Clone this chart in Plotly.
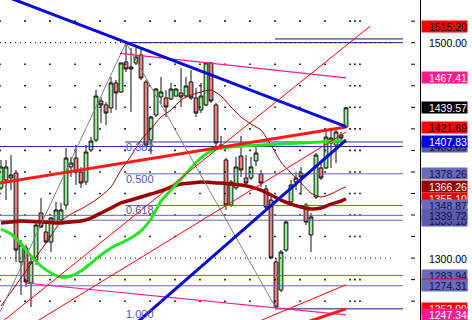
import plotly.graph_objects as go

# ---------------- price bars (x = bar number) ----------------
bars = list(range(70))
opens = [1365.1, 1372.5, 1374.4, 1379.0, 1296.4, 1309.4, 1276.9, 1298.3, 1341.9, 1324.2,
         1314.9, 1332.6, 1335.4, 1349.3, 1384.6, 1392.9, 1379.9, 1370.7, 1400.4, 1409.6,
         1445.9, 1442.2, 1439.4, 1462.6, 1454.2, 1482.1, 1477.4, 1481.2, 1488.6, 1463.5,
         1409.6, 1432.9, 1449.6, 1448.7, 1447.7, 1450.5, 1453.3, 1450.5, 1463.5, 1448.7,
         1437.5, 1442.2, 1481.2, 1442.2, 1405.0, 1391.1, 1349.3, 1365.1, 1394.8, 1374.4,
         1374.4, 1390.2, 1378.1, 1364.2, 1353.9, 1296.4, 1270.4, 1307.5, 1352.1, 1370.7,
         1379.0, 1349.3, 1321.5, 1356.7, 1383.7, 1383.7, 1406.9, 1405.0, 1414.3, 1421.7]
highs = [1391.1, 1391.1, 1395.7, 1381.8, 1316.8, 1312.2, 1300.1, 1333.5, 1355.8, 1333.5,
         1338.2, 1352.1, 1351.1, 1402.2, 1393.9, 1405.0, 1384.6, 1405.0, 1412.4, 1456.1,
         1449.6, 1444.9, 1468.2, 1465.4, 1481.2, 1500.0, 1495.1, 1495.1, 1495.1, 1465.4,
         1431.9, 1457.9, 1468.2, 1456.1, 1462.6, 1457.9, 1476.5, 1468.2, 1474.7, 1457.9,
         1462.6, 1482.1, 1482.1, 1444.0, 1413.4, 1392.9, 1372.5, 1393.9, 1413.4, 1395.7,
         1393.9, 1403.1, 1381.8, 1367.9, 1356.7, 1300.1, 1307.5, 1335.4, 1372.5, 1379.9,
         1384.6, 1351.1, 1341.9, 1397.6, 1388.3, 1417.1, 1420.8, 1420.8, 1417.1, 1440.3]
lows = [1363.2, 1353.9, 1363.2, 1296.4, 1265.7, 1273.2, 1254.6, 1293.6, 1327.9, 1314.0,
        1305.6, 1332.6, 1333.5, 1344.7, 1375.3, 1367.9, 1365.1, 1367.9, 1398.5, 1407.8,
        1425.4, 1423.6, 1434.7, 1437.5, 1453.3, 1472.8, 1435.7, 1479.3, 1465.4, 1403.1,
        1396.6, 1431.0, 1443.1, 1431.0, 1446.8, 1449.6, 1440.3, 1449.6, 1446.8, 1431.0,
        1434.7, 1441.2, 1444.0, 1403.1, 1400.4, 1344.7, 1347.4, 1363.2, 1375.3, 1366.0,
        1372.5, 1385.5, 1366.0, 1344.7, 1299.2, 1253.5, 1268.5, 1305.6, 1351.1, 1363.2,
        1358.6, 1330.7, 1305.6, 1354.9, 1372.5, 1382.8, 1383.7, 1388.3, 1406.9, 1420.8]
closes = [1384.6, 1384.6, 1377.2, 1307.5, 1312.2, 1277.8, 1296.4, 1330.7, 1328.9, 1314.9,
          1337.2, 1344.7, 1344.7, 1392.9, 1388.3, 1379.9, 1369.7, 1398.5, 1408.7, 1450.5,
          1442.2, 1434.7, 1462.6, 1453.3, 1481.2, 1475.6, 1475.6, 1486.7, 1467.2, 1405.0,
          1431.0, 1457.0, 1454.2, 1440.3, 1457.0, 1457.0, 1449.6, 1459.8, 1448.7, 1434.7,
          1450.5, 1481.2, 1445.9, 1406.9, 1402.2, 1349.3, 1370.7, 1384.6, 1381.8, 1369.7,
          1384.6, 1397.6, 1369.7, 1347.4, 1300.1, 1254.6, 1305.6, 1333.5, 1367.9, 1374.4,
          1375.3, 1333.5, 1338.2, 1395.7, 1374.4, 1412.4, 1411.5, 1417.1, 1411.5, 1439.57]

# ---------------- indicator curves, sampled every second bar ----------------
ma_bars = list(range(0, 69, 2)) + [69]
ma_fast = [1327.0, 1322.4, 1313.1, 1301.9, 1292.6, 1286.2, 1282.5, 1283.4, 1288.0, 1295.4,
           1302.9, 1309.4, 1314.0, 1318.6, 1325.2, 1336.3, 1353.0, 1363.2, 1373.4, 1383.7,
           1393.0, 1399.4, 1402.2, 1403.2, 1404.1, 1404.6, 1405.0, 1405.5, 1406.0, 1406.4,
           1406.9, 1407.3, 1407.8, 1408.3, 1408.7, 1408.7]
ma_slow = [1332.6, 1333.5, 1334.4, 1334.0, 1333.5, 1333.0, 1332.6, 1333.5, 1334.4, 1337.2,
           1341.9, 1346.5, 1351.2, 1353.9, 1356.7, 1359.5, 1362.3, 1366.0, 1368.8, 1369.7,
           1370.7, 1370.2, 1369.7, 1368.8, 1367.9, 1366.0, 1363.2, 1358.6, 1353.9, 1350.2,
           1347.5, 1345.6, 1346.5, 1350.2, 1353.0, 1355.10]
ma_thin = [1255.5, 1268.5, 1281.5, 1294.5, 1307.5, 1320.5, 1334.5, 1340.9, 1345.6, 1351.1,
           1357.6, 1366.0, 1381.8, 1394.8, 1409.6, 1419.9, 1431.0, 1437.5, 1446.8, 1451.4,
           1454.2, 1456.1, 1450.5, 1440.3, 1431.0, 1424.5, 1418.9, 1405.0, 1389.2, 1379.0,
           1369.7, 1360.4, 1356.7, 1359.5, 1364.2, 1366.26]

# ---------------- drawn trend lines: (bar, price) anchors ----------------
down_blue_x, down_blue_y = [0, 69], [1544.7, 1422.0]
up_blue_x, up_blue_y = [27, 69], [1239.3, 1409.5]
red_thick_x, red_thick_y = [-1, 69], [1369.2, 1421.69]
red_low_x, red_low_y = [61, 69], [1240.3, 1252.90]
ray_x, ray_y = [0, 73.8], [1240.0, 1515.20]
fan_x, fan_y = [7, 69], [1240.8, 1417.0]
chan_x, chan_y = [50, 69], [1238.2, 1275.20]
pink_top_x, pink_top_y = [23.8, 69], [1490.1, 1467.41]
pink_low_x, pink_low_y = [4.8, 69], [1276.9, 1247.34]
zigzag_x, zigzag_y = [-1, 25, 55], [1242.0, 1500.0, 1253.5]

# ---------------- horizontal levels ----------------
fib_names = ["0.382", "0.500", "0.618", "1.000"]
fib_prices = [1407.83, 1378.26, 1348.87, 1252.90]
fib_zero = 1503.50
peak_level = 1500.00
full_levels = [1403.65, 1339.72, 1335.18, 1283.94, 1274.31]
axis_labels = [1500.00, 1300.00]
tick_prices = list(range(1260, 1521, 20))

# ---------------- geometry helpers (bar axis: 5 px per bar) ----------------
W, H = 472, 320
PLOT_W = 420
X0, X1 = -0.2, 83.8
Y0, Y1 = 1242.53, 1539.65


def px_to_bar(px):
    return X0 + (X1 - X0) * px / PLOT_W


LEFT = X0
RIGHT_END = px_to_bar(403)
FIB_START = px_to_bar(125)
LOW_START = px_to_bar(275)

NAVY = "#14147e"
DARK_SLATE = "#2e2e90"
SLATE = "#6868b4"

fig = go.Figure()


def seg_trace(xs, ys, color, width, dash=None):
    fig.add_trace(go.Scatter(x=xs, y=ys, mode="lines", hoverinfo="skip",
                             line=dict(color=color, width=width, dash=dash)))


# dotted grid: sparse dots on price rows, dense dots on labelled rows
grid_cols = [px_to_bar(p) for p in list(range(0, 351, 25)) + [355, 360]]
gx, gy = [], []
for tp in tick_prices:
    if tp in axis_labels:
        continue
    for c in grid_cols:
        gx.append(c)
        gy.append(tp)
fig.add_trace(go.Scatter(x=gx, y=gy, mode="markers", hoverinfo="skip",
                         marker=dict(symbol="square", size=1.6, color="#000000", line=dict(width=0))))
for lv in axis_labels:
    seg_trace([LEFT, px_to_bar(392)], [lv, lv], "#000000", 1, "1px,4px")

# horizontal levels
for lv in full_levels:
    seg_trace([LEFT, RIGHT_END], [lv, lv], DARK_SLATE if lv == full_levels[0] else SLATE, 1)
for name, lv in zip(fib_names, fib_prices):
    start = LOW_START if name == "1.000" else FIB_START
    col = NAVY if name == "1.000" else (DARK_SLATE if name == "0.382" else SLATE)
    seg_trace([start, RIGHT_END], [lv, lv], col, 1)
seg_trace([LOW_START, RIGHT_END], [fib_zero, fib_zero], NAVY, 1)
seg_trace([FIB_START, RIGHT_END], [peak_level, peak_level], NAVY, 1)

# candles
fig.add_trace(go.Candlestick(
    x=bars, open=opens, high=highs, low=lows, close=closes,
    increasing=dict(line=dict(color="#111111", width=1), fillcolor="#90ee90"),
    decreasing=dict(line=dict(color="#111111", width=1), fillcolor="#f08080"),
    whiskerwidth=0, hoverinfo="skip"))

# moving averages
fig.add_trace(go.Scatter(x=ma_bars, y=ma_thin, mode="lines", hoverinfo="skip",
                         line=dict(color="#9a0000", width=1, shape="spline", smoothing=0.6)))
fig.add_trace(go.Scatter(x=ma_bars, y=ma_slow, mode="lines", hoverinfo="skip",
                         line=dict(color="#990000", width=3.5, shape="spline", smoothing=0.6)))
fig.add_trace(go.Scatter(x=ma_bars, y=ma_fast, mode="lines", hoverinfo="skip",
                         line=dict(color="#22e622", width=3, shape="spline", smoothing=0.6)))

# thin fan / channel lines
seg_trace(ray_x, ray_y, "#ff0000", 1)
seg_trace(fan_x, fan_y, "#ff0000", 1)
seg_trace(chan_x, chan_y, "#ff0000", 1)
seg_trace(zigzag_x, zigzag_y, "#808080", 1)
seg_trace(pink_top_x, pink_top_y, "#ff1a8c", 1.2)
seg_trace(pink_low_x, pink_low_y, "#ff1a8c", 1.2)

# heavy trend lines
seg_trace(red_low_x, red_low_y, "#ff1a1a", 3)
seg_trace(red_thick_x, red_thick_y, "#ff1a1a", 3)
seg_trace(down_blue_x, down_blue_y, "#0a0ad6", 3)
seg_trace(up_blue_x, up_blue_y, "#0a0ad6", 3)

# fibonacci level captions
for name, lv in zip(fib_names, fib_prices):
    fig.add_annotation(x=FIB_START, y=lv, xref="x", yref="y", text=name, showarrow=False,
                       xanchor="left", yanchor="top", yshift=2, borderpad=0,
                       font=dict(family="Liberation Sans, Arial", size=11, color="#5454a6"))

# right-hand price tags (later entries sit on top)
tags = [
    (ray_y[1], "#ff0000", "#000000"),
    (pink_top_y[1], "#ff1a8c", "#ffffff"),
    (closes[-1], "#000000", "#ffffff"),
    (red_thick_y[1], "#ff0000", "#000000"),
    (full_levels[0], "#5a5aae", "#10103c"),
    (fib_prices[0], "#0000e0", "#ffffff"),
    (fib_prices[1], "#6a6abc", "#10103c"),
    (ma_thin[-1], "#990000", "#ffffff"),
    (ma_slow[-1], "#ee0000", "#ffffff"),
    (fib_prices[2], "#6a6abc", "#10103c"),
    (full_levels[2], "#5a5aae", "#10103c"),
    (full_levels[1], "#5a5aae", "#10103c"),
    (full_levels[3], "#6a6abc", "#10103c"),
    (chan_y[1], "#ff0000", "#ffffff"),
    (full_levels[4], "#6a6abc", "#10103c"),
    (red_low_y[1], "#ff0000", "#ffffff"),
    (pink_low_y[1], "#ff1a8c", "#ffffff"),
]
TAG_X = 421 / W
for val, bg, fg in tags:
    fig.add_annotation(x=TAG_X, y=val, xref="paper", yref="y", text=f"{val:.2f}",
                       showarrow=False, xanchor="left", yanchor="middle", align="right",
                       width=45, height=11, borderpad=0, bgcolor=bg,
                       font=dict(family="Liberation Sans, Arial", size=10.5, color=fg))
for val in axis_labels:
    fig.add_annotation(x=TAG_X, y=val, xref="paper", yref="y", text=f"{val:.2f}",
                       showarrow=False, xanchor="left", yanchor="middle", align="right",
                       width=45, height=11, borderpad=0,
                       font=dict(family="Liberation Sans, Arial", size=10.5, color="#000000"))

# price scale border and tick marks
shapes = [dict(type="line", xref="paper", yref="paper", x0=420.5 / W, x1=420.5 / W, y0=0, y1=1,
               line=dict(color="#000000", width=1))]
for tp in tick_prices:
    shapes.append(dict(type="line", xref="x", yref="y", x0=px_to_bar(411), x1=px_to_bar(415),
                       y0=tp, y1=tp, line=dict(color="#000000", width=1)))

fig.update_layout(
    width=W, height=H, margin=dict(l=0, r=0, t=0, b=0),
    paper_bgcolor="#ffffff", plot_bgcolor="#ffffff", showlegend=False,
    boxgap=0.25, boxgroupgap=0,
    xaxis=dict(domain=[0, PLOT_W / W], range=[X0, X1], visible=False,
               rangeslider=dict(visible=False), fixedrange=True),
    yaxis=dict(range=[Y0, Y1], visible=False, fixedrange=True),
    shapes=shapes,
)

fig.write_html("out.html", config={"displayModeBar": False})
